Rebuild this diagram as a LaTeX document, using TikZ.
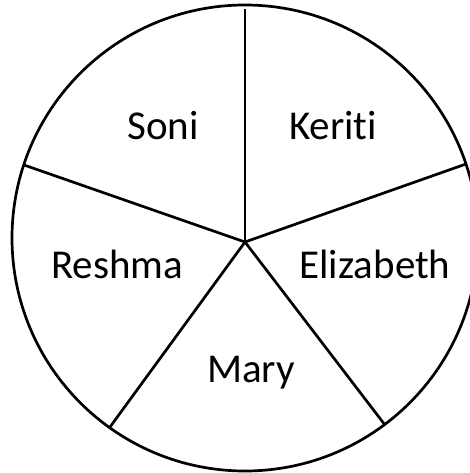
\documentclass[tikz,border=0pt]{standalone}
\usepackage{fontspec}
\setmainfont{Carlito}[Ligatures={NoCommon,NoContextual}]
\usetikzlibrary{positioning}

\begin{document}
\begin{tikzpicture}[
x=1pt,y=-1pt,
rim/.style={
draw,
line width=2.7pt
},
spoke/.style={
line width=2.7pt
},
person/.style={
anchor=base,
inner sep=0pt,
font=\fontsize{41}{49}\selectfont
}
]

\clip (0,0) rectangle (470,473);

% circle
\draw[rim] (245,238) circle[radius=233pt];

% centre and rim points
\coordinate (o) at (245,242);
\coordinate (top) at (245,9.5);
\coordinate (right) at (466,164);
\coordinate (lowright) at (385,425);
\coordinate (lowleft) at (110,427);
\coordinate (left) at (24,165);

% spokes
\draw[spoke] (o)--(top);
\draw[spoke] (o)--(right);
\draw[spoke] (o)--(lowright);
\draw[spoke] (o)--(lowleft);
\draw[spoke] (o)--(left);

% names
\node[person] (soni) at (163,140) {Soni};
\node[person] (keriti) at (333,140) {Keriti};
\node[person] (reshma) at (117,278) {Reshma};
\node[person] (elizabeth) at (375,278) {Elizabeth};
\node[person] (mary) at (251,382) {Mary};

\end{tikzpicture}
\end{document}
